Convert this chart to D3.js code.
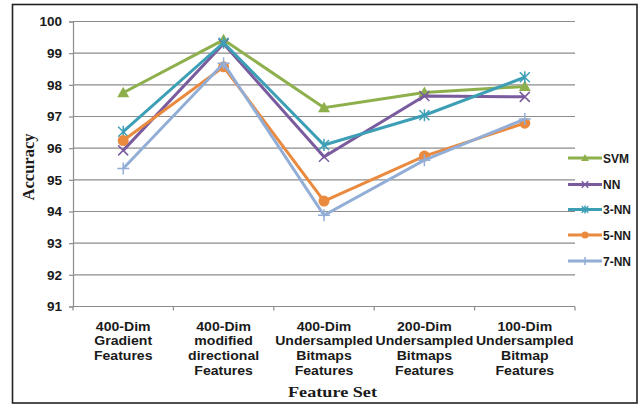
<!DOCTYPE html>
<html><head><meta charset="utf-8">
<script src="https://cdn.jsdelivr.net/npm/d3@7"></script>
<style>body{margin:0;background:#fff;} svg{display:block;}</style>
</head><body>
<script>
const categories = [
  ["400-Dim","Gradient","Features"],
  ["400-Dim","modified","directional","Features"],
  ["400-Dim","Undersampled","Bitmaps","Features"],
  ["200-Dim","Undersampled","Bitmaps","Features"],
  ["100-Dim","Undersampled","Bitmap","Features"]
];
const seriesNames = ["SVM","NN","3-NN","5-NN","7-NN"];
const svmValues = [97.75, 99.42, 97.28, 97.76, 97.95];
const nnValues  = [95.93, 99.3, 95.73, 97.65, 97.62];
const knn3Values = [96.52, 99.33, 96.1, 97.04, 98.24];
const knn5Values = [96.24, 98.57, 94.33, 95.75, 96.79];
const knn7Values = [95.36, 98.68, 93.88, 95.62, 96.92];
const yTicks = [91,92,93,94,95,96,97,98,99,100];
const colors = ["#8DB04C","#7A5C9E","#3D9FB6","#EA8A3F","#93AED6"];
const markers = ["triangle","x","asterisk","circle","plus"];

const allValues = [svmValues, nnValues, knn3Values, knn5Values, knn7Values];

const W = 640, H = 407;
const svg = d3.select("body").append("svg").attr("width", W).attr("height", H);

// outer frame
svg.append("rect").attr("x",12.5).attr("y",4.5).attr("width",624.5).attr("height",398.5)
  .attr("fill","#fff").attr("stroke","#222").attr("stroke-width",1.6);

const x = d3.scaleBand().domain(d3.range(categories.length)).range([73, 575]);
const y = d3.scaleLinear().domain([91, 100]).range([306.5, 21.5]);

// gridlines
svg.append("g").selectAll("line").data(yTicks).join("line")
  .attr("x1",73).attr("x2",575).attr("y1",d=>y(d)).attr("y2",d=>y(d))
  .attr("stroke","#8c8c8c").attr("stroke-width",1.2);

// y axis
const yAxis = svg.append("g").attr("transform","translate(73,0)")
  .call(d3.axisLeft(y).tickValues(yTicks).tickSize(4).tickPadding(7).tickFormat(d3.format("d")));
yAxis.select(".domain").attr("stroke","#8c8c8c").attr("stroke-width",1.2);
yAxis.selectAll(".tick line").attr("stroke","#8c8c8c").attr("stroke-width",1.2);
yAxis.selectAll("text").attr("font-family","Liberation Sans, Arial, sans-serif")
  .attr("font-weight","bold").attr("font-size",13.5).attr("fill","#1a1a1a");

// x axis
const boundaries = d3.range(categories.length + 1).map(i => 73 + i * x.step());
svg.append("line").attr("x1",73).attr("x2",575).attr("y1",y(91)).attr("y2",y(91))
  .attr("stroke","#8c8c8c").attr("stroke-width",1.2);
svg.append("g").selectAll("line").data(boundaries).join("line")
  .attr("x1",d=>d).attr("x2",d=>d).attr("y1",y(91)).attr("y2",y(91)+4)
  .attr("stroke","#8c8c8c").attr("stroke-width",1.2);

const xl = svg.append("g").selectAll("g").data(categories).join("g")
  .attr("transform",(d,i)=>`translate(${x(i)+x.bandwidth()/2},330.5) scale(1.1,1)`);
xl.each(function(d){
  const t = d3.select(this).append("text").attr("text-anchor","middle")
    .attr("font-family","Liberation Sans, Arial, sans-serif")
    .attr("font-weight","bold").attr("font-size",12.8).attr("fill","#1a1a1a");
  d.forEach((s,j)=>t.append("tspan").attr("x",0).attr("dy", j===0?0:15).text(s));
});

// axis titles
svg.append("text").attr("x",288).attr("y",397)
  .attr("textLength",89).attr("lengthAdjust","spacingAndGlyphs")
  .attr("font-family","Liberation Serif, Times New Roman, serif").attr("font-weight","bold")
  .attr("font-size",15.5).attr("fill","#1a1a1a").text("Feature Set");
svg.append("text").attr("transform","translate(34,167) rotate(-90)").attr("text-anchor","middle")
  .attr("font-family","Liberation Serif, Times New Roman, serif").attr("font-weight","bold")
  .attr("font-size",16.5).attr("fill","#1a1a1a").text("Accuracy");

function drawMarker(g, type, cx, cy, color, k){
  k = k || 1;
  const a = 6*k, b = 5*k;
  if(type==="triangle"){
    g.append("path").attr("d",`M${cx},${cy-a}L${cx+a},${cy+a*0.75}L${cx-a},${cy+a*0.75}Z`).attr("fill",color);
  } else if(type==="circle"){
    g.append("circle").attr("cx",cx).attr("cy",cy).attr("r",5.5*k).attr("fill",color);
  } else if(type==="x"){
    g.append("path").attr("d",`M${cx-b},${cy-b}L${cx+b},${cy+b}M${cx-b},${cy+b}L${cx+b},${cy-b}`)
      .attr("stroke",color).attr("stroke-width",1.5);
  } else if(type==="asterisk"){
    g.append("path").attr("d",`M${cx-b},${cy-b}L${cx+b},${cy+b}M${cx-b},${cy+b}L${cx+b},${cy-b}M${cx},${cy-a}L${cx},${cy+a}`)
      .attr("stroke",color).attr("stroke-width",1.5);
  } else if(type==="plus"){
    g.append("path").attr("d",`M${cx-a},${cy}L${cx+a},${cy}M${cx},${cy-a}L${cx},${cy+a}`)
      .attr("stroke",color).attr("stroke-width",1.5);
  }
}

const line = d3.line().x((d,i)=>x(i)+x.bandwidth()/2).y(d=>y(d));
allValues.forEach((vals, si) => {
  const g = svg.append("g");
  g.append("path").datum(vals).attr("d", line).attr("fill","none")
    .attr("stroke", colors[si]).attr("stroke-width",3).attr("stroke-linejoin","miter");
  vals.forEach((v,i)=>drawMarker(g, markers[si], x(i)+x.bandwidth()/2, y(v), colors[si]));
});

// legend
const legY = [158, 184.5, 209.5, 235, 261];
seriesNames.forEach((name, si) => {
  const g = svg.append("g");
  g.append("line").attr("x1",568).attr("x2",602).attr("y1",legY[si]).attr("y2",legY[si])
    .attr("stroke",colors[si]).attr("stroke-width",3);
  drawMarker(g, markers[si], 585, legY[si], colors[si], 0.65);
  g.append("text").attr("x",603).attr("y",legY[si]+4.5)
    .attr("font-family","Liberation Sans, Arial, sans-serif").attr("font-weight","bold")
    .attr("font-size",12).attr("fill","#1a1a1a").text(name);
});
</script>
</body></html>
